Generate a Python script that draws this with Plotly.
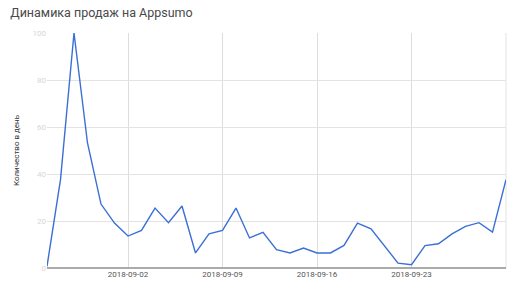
import plotly.graph_objects as go
import pandas as pd

dates = pd.date_range("2018-08-27", "2018-09-30", freq="D").strftime("%Y-%m-%d").tolist()
sales = [0.7, 37.6, 100, 53.2, 27.2, 19.1, 13.6, 16.0, 25.5, 19.3, 26.4, 6.4,
         14.5, 16.0, 25.5, 12.8, 15.2, 7.8, 6.4, 8.5, 6.4, 6.4, 9.6, 19.1,
         16.7, 9.5, 2.1, 1.4, 9.5, 10.3, 14.5, 17.7, 19.3, 15.3, 37.6]
x_ticks = ["2018-09-02", "2018-09-09", "2018-09-16", "2018-09-23"]
y_ticks = [0, 20, 40, 60, 80, 100]

fig = go.Figure()
fig.add_trace(go.Scatter(x=dates, y=sales, mode="lines",
                         line=dict(color="#3a6fd6", width=1.4),
                         hoverinfo="x+y"))

fig.update_layout(
    width=512, height=285,
    margin=dict(l=47, r=6, t=33, b=17),
    paper_bgcolor="white", plot_bgcolor="white",
    showlegend=False,
    font=dict(family="Roboto, Arial, sans-serif", color="#444"),
    title=dict(text="Динамика продаж на Appsumo", x=0.02, xanchor="left",
               y=0.955, yanchor="middle",
               font=dict(size=12.5, color="#4a4a4a", family="Roboto, Arial, sans-serif")),
    xaxis=dict(type="date", range=[dates[0], dates[-1]],
               tickvals=x_ticks, ticktext=x_ticks,
               showgrid=True, gridcolor="#dddddd", gridwidth=1,
               showline=False, zeroline=False, ticks="",
               tickfont=dict(size=8, color="#555")),
    yaxis=dict(range=[0, 100], tickvals=y_ticks,
               showgrid=True, gridcolor="#e3e3e3", gridwidth=1,
               zeroline=True, zerolinecolor="#aaaaaa", zerolinewidth=2,
               showline=False, ticks="",
               tickfont=dict(size=8, color="#d6d6d6"),
               title=dict(text="Количество в день", standoff=11,
                          font=dict(size=8, color="#333"))),
    shapes=[dict(type="line", xref="paper", yref="paper", x0=1, x1=1, y0=0, y1=1,
                 line=dict(color="#e3e3e3", width=1), layer="below")],
)

fig.write_html("out.html")
